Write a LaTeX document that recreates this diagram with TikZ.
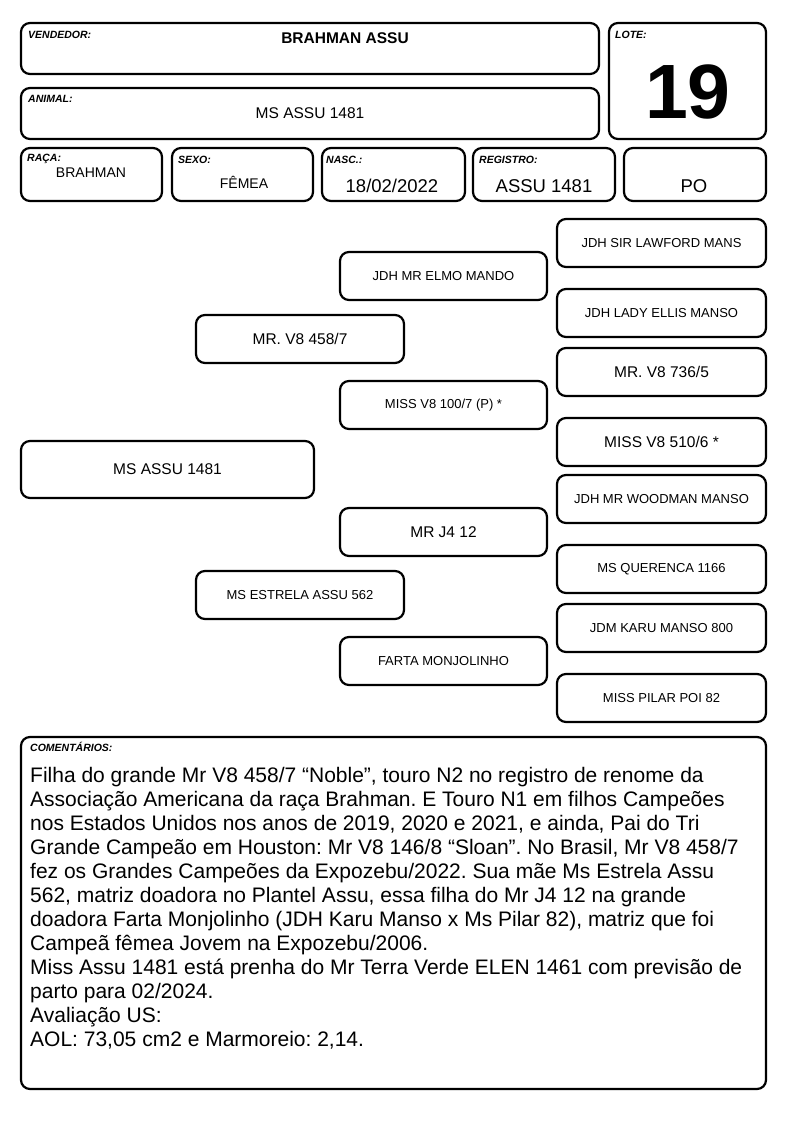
\documentclass[tikz,border=0pt]{standalone}
\usepackage{fontspec}
\setmainfont{Liberation Sans}
\newcommand\fsz[1]{\fontsize{#1}{#1}\selectfont}
\frenchspacing
\begin{document}
\begin{tikzpicture}[x=1pt,y=-1pt,
  box/.style={draw=black, line width=2.2pt, rounded corners=9pt, inner sep=0pt},
  lbl/.style={anchor=base west, inner sep=0pt, font=\bfseries\itshape\fsz{10.5}},
  val/.style={anchor=base, inner sep=0pt},
  big/.style={font=\fsz{15.5}},
  small/.style={font=\fsz{13}},
  cline/.style={anchor=base west, inner sep=0pt, font=\frenchspacing\fsz{21}}]
\useasboundingbox (0,0) rectangle (794,1123);
\fill[white] (0,0) rectangle (794,1123);
% header boxes
\node[box, minimum width=578pt, minimum height=51pt] (vend) at (310,48.5) {};
\node[box, minimum width=157pt, minimum height=116pt] (lote) at (687.5,81) {};
\node[box, minimum width=578pt, minimum height=51pt] (anim) at (310,113.5) {};
\node[box, minimum width=141pt, minimum height=53pt] (raca) at (91.5,174.5) {};
\node[box, minimum width=141pt, minimum height=53pt] (sexo) at (242.5,174.5) {};
\node[box, minimum width=143pt, minimum height=53pt] (nasc) at (393.5,174.5) {};
\node[box, minimum width=142pt, minimum height=53pt] (reg) at (544,174.5) {};
\node[box, minimum width=142pt, minimum height=53pt] (po) at (695,174.5) {};
% header labels
\node[lbl] (lvend) at (28,38.6) {VENDEDOR:};
\node[lbl] (llote) at (615,38.6) {LOTE:};
\node[lbl] (lanim) at (28,102.6) {ANIMAL:};
\node[lbl] (lraca) at (27,161.6) {RAÇA:};
\node[lbl] (lsexo) at (178,163.6) {SEXO:};
\node[lbl] (lnasc) at (326,163.6) {NASC.:};
\node[lbl] (lreg) at (479,163.6) {REGISTRO:};
% header values
\node[val, font=\bfseries\fsz{15.5}] (vvend) at (345,43.5) {BRAHMAN ASSU};
\node[val, font=\fsz{15.5}] (vanim) at (310,118.5) {MS ASSU 1481};
\node[val, font=\bfseries\fsz{77}] (vlote) at (688,118.5) {19};
\node[val, font=\fsz{14}] (vraca) at (91,178) {BRAHMAN};
\node[val, font=\fsz{14}] (vsexo) at (244,189) {FÊMEA};
\node[val, font=\fsz{18.5}] (vnasc) at (392,192.6) {18/02/2022};
\node[val, font=\fsz{18.5}] (vreg) at (544,192.6) {ASSU 1481};
\node[val, font=\fsz{18.5}] (vpo) at (694,192.6) {PO};
% pedigree
\node[box, big, minimum width=293pt, minimum height=57pt] (p0) at (167.5,469.5) {MS ASSU 1481};
\node[box, big, minimum width=208pt, minimum height=48pt] (s) at (300,339) {MR. V8 458/7};
\node[box, small, minimum width=208pt, minimum height=48pt] (d) at (300,595) {MS ESTRELA ASSU 562};
\node[box, small, minimum width=207pt, minimum height=48pt] (ss) at (443.5,276) {JDH MR ELMO MANDO};
\node[box, small, minimum width=207pt, minimum height=48pt] (sd) at (443.5,405) {MISS V8 100/7 (P) *};
\node[box, big, minimum width=207pt, minimum height=48pt] (ds) at (443.5,532) {MR J4 12};
\node[box, small, minimum width=207pt, minimum height=48pt] (dd) at (443.5,661) {FARTA MONJOLINHO};
\node[box, small, minimum width=209pt, minimum height=48pt] (sss) at (661.5,243) {JDH SIR LAWFORD MANS};
\node[box, small, minimum width=209pt, minimum height=48pt] (ssd) at (661.5,313) {JDH LADY ELLIS MANSO};
\node[box, big, minimum width=209pt, minimum height=48pt] (sds) at (661.5,372) {MR. V8 736/5};
\node[box, big, minimum width=209pt, minimum height=48pt] (sdd) at (661.5,442) {MISS V8 510/6 *};
\node[box, small, minimum width=209pt, minimum height=48pt] (dss) at (661.5,499) {JDH MR WOODMAN MANSO};
\node[box, small, minimum width=209pt, minimum height=48pt] (dsd) at (661.5,569) {MS QUERENCA 1166};
\node[box, small, minimum width=209pt, minimum height=48pt] (dds) at (661.5,628) {JDM KARU MANSO 800};
\node[box, small, minimum width=209pt, minimum height=48pt] (ddd) at (661.5,698) {MISS PILAR POI 82};
% comments
\node[box, minimum width=745pt, minimum height=352pt] (com) at (393.5,913) {};
\node[lbl] (lcom) at (30,751.8) {COMENTÁRIOS:};
\node[cline] (c1) at (30,782) {Filha do grande Mr V8 458/7 “Noble”, touro N2 no registro de renome da};
\node[cline] (c2) at (30,806) {Associação Americana da raça Brahman. E Touro N1 em filhos Campeões};
\node[cline] (c3) at (30,830) {nos Estados Unidos nos anos de 2019, 2020 e 2021, e ainda, Pai do Tri};
\node[cline] (c4) at (30,854) {Grande Campeão em Houston: Mr V8 146/8 “Sloan”. No Brasil, Mr V8 458/7};
\node[cline] (c5) at (30,878) {fez os Grandes Campeões da Expozebu/2022. Sua mãe Ms Estrela Assu};
\node[cline] (c6) at (30,902) {562, matriz doadora no Plantel Assu, essa filha do Mr J4 12 na grande};
\node[cline] (c7) at (30,926) {doadora Farta Monjolinho (JDH Karu Manso x Ms Pilar 82), matriz que foi};
\node[cline] (c8) at (30,950) {Campeã fêmea Jovem na Expozebu/2006.};
\node[cline] (c9) at (30,974) {Miss Assu 1481 está prenha do Mr Terra Verde ELEN 1461 com previsão de};
\node[cline] (c10) at (30,998) {parto para 02/2024.};
\node[cline] (c11) at (30,1022) {Avaliação US:};
\node[cline] (c12) at (30,1046) {AOL: 73,05 cm2 e Marmoreio: 2,14.};
\end{tikzpicture}
\end{document}
